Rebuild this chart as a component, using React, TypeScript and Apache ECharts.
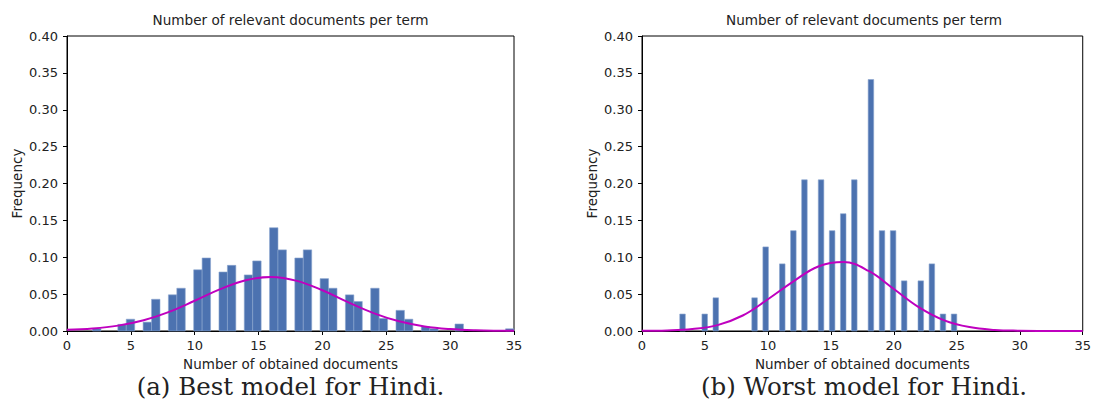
import React, { useEffect, useRef } from "react";
import * as echarts from "echarts";

// ---- data ----
const chartTitle = "Number of relevant documents per term";
const xLabel = "Number of obtained documents";
const yLabel = "Frequency";
const captions = ["(a) Best model for Hindi.", "(b) Worst model for Hindi."];

const binCount = 50;

// Best model (a): obtained documents -> frequency (density)
const bestDocs = [2, 4, 5, 6, 7, 8, 9, 10, 11, 12, 13, 14, 15, 16, 17, 18, 19, 20, 21, 22, 23, 24, 25, 26, 27, 28, 29, 31, 35];
const bestFreq = [0.003, 0.009, 0.016, 0.012, 0.043, 0.049, 0.058, 0.083, 0.099, 0.08, 0.089, 0.076, 0.095, 0.14, 0.11, 0.099, 0.11, 0.071, 0.058, 0.049, 0.04, 0.058, 0.017, 0.028, 0.016, 0.006, 0.003, 0.0095, 0.003];

// Worst model (b)
const worstDocs = [3, 5, 6, 9, 10, 11, 12, 13, 14, 15, 16, 17, 18, 19, 20, 21, 22, 23, 24, 25];
const worstFreq = [0.023, 0.023, 0.045, 0.045, 0.114, 0.091, 0.136, 0.205, 0.205, 0.136, 0.159, 0.205, 0.341, 0.136, 0.136, 0.068, 0.068, 0.091, 0.023, 0.023];

// Fitted normal curves
const curveX = [0, 2, 4, 6, 8, 10, 12, 14, 16, 18, 20, 22, 24, 26, 28, 30, 32, 34, 35];
const bestFit = [0.0017, 0.0034, 0.0073, 0.0146, 0.026, 0.041, 0.0567, 0.0689, 0.0732, 0.068, 0.0552, 0.0391, 0.0243, 0.0131, 0.0062, 0.0026, 0.0009, 0.0003, 0.0002];
const worstFit = [0.0002, 0.0008, 0.0028, 0.008, 0.021, 0.043, 0.067, 0.0875, 0.0935, 0.0814, 0.057, 0.0321, 0.0145, 0.0053, 0.0015, 0.0004, 0.0001, 0, 0];

const xTicks = { min: 0, max: 35, interval: 5 };
const yTicks = { min: 0, max: 0.4, interval: 0.05 };

// histogram bins like numpy (range of the data, 50 bins)
function toBins(docs: number[], freq: number[]) {
  const lo = Math.min(...docs);
  const hi = Math.max(...docs);
  const w = (hi - lo) / binCount;
  return docs.map((d, i) => {
    const idx = Math.min(Math.floor((d - lo) / w + 1e-9), binCount - 1);
    const x0 = lo + idx * w;
    return [x0, x0 + w, freq[i]];
  });
}

const FONT = "DejaVu Sans";
const TXT = "#222";
const BAR = "#4c72b0";
const FIT = "#bf00bf";

export default function App() {
  const ref = useRef<HTMLDivElement>(null);
  useEffect(() => {
    if (!ref.current) return;
    const chart = echarts.init(ref.current, undefined, { renderer: "svg" });
    const grids = [
      { left: 67, top: 36, width: 447, height: 295 },
      { left: 642, top: 36, width: 444, height: 295 },
    ];
    const renderItem = (params: any, api: any) => {
      const x0 = api.value(0);
      const x1 = api.value(1);
      const y = api.value(2);
      const p0 = api.coord([x0, y]);
      const p1 = api.coord([x1, 0]);
      return {
        type: "rect",
        shape: { x: p0[0], y: p0[1], width: p1[0] - p0[0], height: p1[1] - p0[1] },
        style: { fill: BAR, stroke: "#8aa4cf", lineWidth: 0.6 },
      };
    };
    const xAxis = grids.map((_, i) => ({
      type: "value",
      gridIndex: i,
      min: xTicks.min,
      max: xTicks.max,
      interval: xTicks.interval,
      name: xLabel,
      nameLocation: "middle",
      nameGap: 26,
      nameTextStyle: { fontFamily: FONT, fontSize: 13.5, color: TXT },
      axisLine: { show: true, lineStyle: { color: "#000", width: 1 } },
      axisTick: { show: true, length: 4, lineStyle: { color: "#000" } },
      axisLabel: { fontFamily: FONT, fontSize: 13, color: TXT, margin: 8 },
      splitLine: { show: false },
    }));
    const yAxis = grids.map((_, i) => ({
      type: "value",
      gridIndex: i,
      min: yTicks.min,
      max: yTicks.max,
      interval: yTicks.interval,
      name: yLabel,
      nameLocation: "middle",
      nameRotate: 90,
      nameGap: 43,
      nameTextStyle: { fontFamily: FONT, fontSize: 13.5, color: TXT },
      axisLine: { show: true, lineStyle: { color: "#000", width: 1 } },
      axisTick: { show: true, length: 4, lineStyle: { color: "#000" } },
      axisLabel: {
        fontFamily: FONT,
        fontSize: 13,
        color: TXT,
        margin: 9,
        formatter: (v: number) => v.toFixed(2),
      },
      splitLine: { show: false },
    }));
    const graphic: any[] = [];
    grids.forEach((g, i) => {
      graphic.push({
        type: "text",
        x: g.left + g.width / 2,
        y: 20,
        style: {
          text: chartTitle,
          font: `13.6px "${FONT}"`,
          fill: TXT,
          textAlign: "center",
          textVerticalAlign: "middle",
        },
      });
      graphic.push({
        type: "text",
        x: g.left + g.width / 2,
        y: 386,
        style: {
          text: captions[i],
          font: `24.5px "DejaVu Serif"`,
          fill: TXT,
          textAlign: "center",
          textVerticalAlign: "middle",
        },
      });
    });
    chart.setOption({
      animation: false,
      backgroundColor: "#fff",
      grid: grids.map((g) => ({ ...g, show: true, borderColor: "#000", borderWidth: 1, backgroundColor: "transparent" })),
      xAxis,
      yAxis,
      graphic,
      series: [
        {
          type: "custom",
          xAxisIndex: 0,
          yAxisIndex: 0,
          renderItem,
          encode: { x: [0, 1], y: 2 },
          data: toBins(bestDocs, bestFreq),
          z: 2,
        },
        {
          type: "custom",
          xAxisIndex: 1,
          yAxisIndex: 1,
          renderItem,
          encode: { x: [0, 1], y: 2 },
          data: toBins(worstDocs, worstFreq),
          z: 2,
        },
        {
          type: "line",
          xAxisIndex: 0,
          yAxisIndex: 0,
          data: curveX.map((x, i) => [x, bestFit[i]]),
          smooth: 0.4,
          showSymbol: false,
          lineStyle: { color: FIT, width: 2 },
          z: 3,
        },
        {
          type: "line",
          xAxisIndex: 1,
          yAxisIndex: 1,
          data: curveX.map((x, i) => [x, worstFit[i]]),
          smooth: 0.4,
          showSymbol: false,
          lineStyle: { color: FIT, width: 2 },
          z: 3,
        },
      ],
    });
    return () => chart.dispose();
  }, []);
  return (
    <div
      ref={ref}
      style={{ position: "fixed", left: 0, top: 0, width: 1094, height: 416, background: "#fff" }}
    />
  );
}
